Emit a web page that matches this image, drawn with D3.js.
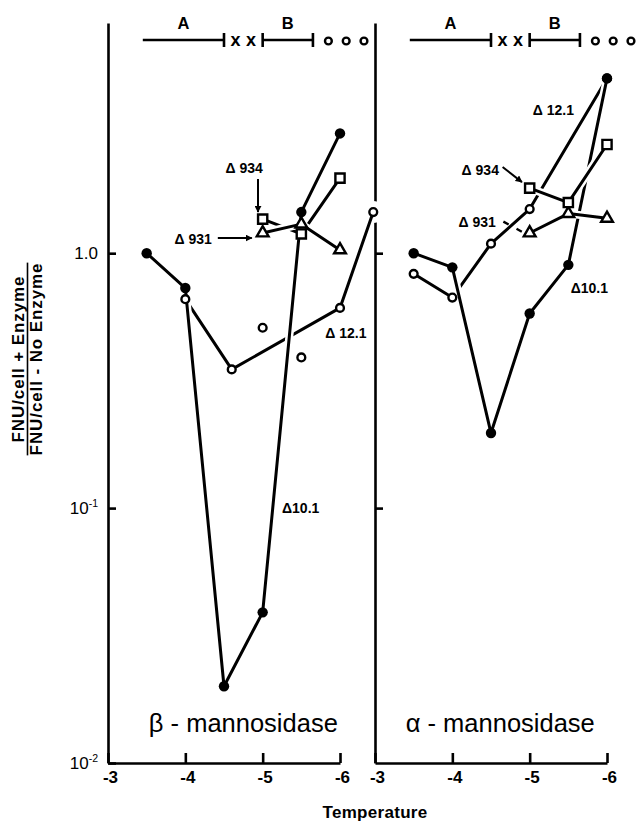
<!DOCTYPE html>
<html>
<head>
<meta charset="utf-8">
<script src="https://cdn.jsdelivr.net/npm/d3@7"></script>
<style>
  body { margin: 0; background: #fff; }
  svg { display: block; }
</style>
</head>
<body>
<svg id="chart" width="642" height="822"></svg>
<script>
// axis ticks
var xTicks = [-3, -4, -5, -6];
var yTicks = [1, 0.1, 0.01];
var yTickLabels = [['1.0', ''], ['10', '-1'], ['10', '-2']];

// beta-mannosidase panel
var betaD101X = [-3.5, -4, -4.5, -5, -5.5, -6];
var betaD101Y = [1.0, 0.73, 0.02, 0.039, 1.45, 2.95];
var betaD121X = [-4, -4.6, -6, -6.43];
var betaD121Y = [0.66, 0.35, 0.61, 1.45];
var betaLooseX = [-5, -5.5];
var betaLooseY = [0.51, 0.39];
var betaD934X = [-5, -5.5, -6];
var betaD934Y = [1.36, 1.19, 1.97];
var betaD931X = [-5, -5.5, -6];
var betaD931Y = [1.2, 1.3, 1.03];

// alpha-mannosidase panel
var alphaD101X = [-3.5, -4, -4.5, -5, -5.5, -6];
var alphaD101Y = [1.0, 0.88, 0.197, 0.58, 0.9, 4.85];
var alphaD121X = [-3.5, -4, -4.5, -5, -6];
var alphaD121Y = [0.83, 0.67, 1.09, 1.49, 4.85];
var alphaD934X = [-5, -5.5, -6];
var alphaD934Y = [1.8, 1.58, 2.67];
var alphaD931X = [-5, -5.5, -6];
var alphaD931Y = [1.2, 1.43, 1.37];

// phase bar above each panel (A, x x, B, o o o)
var phaseA = [-3.45, -4.5];
var phaseB = [-5, -5.65];
var crossMarks = [-4.65, -4.85];
var ringMarks = [-5.85, -6.08, -6.31];

// strain labels: text, x, y (data units)
var betaNotes = [['\u0394 934', -4.52, 2.06], ['\u0394 931', -3.86, 1.087], ['\u0394 12.1', -5.81, 0.465], ['\u039410.1', -5.25, 0.0957]];
var betaArrows = [[-4.94, 1.955, -4.94, 1.45], [-4.42, 1.147, -4.86, 1.147]];
var alphaNotes = [['\u0394 12.1', -5.04, 3.49], ['\u0394 934', -4.12, 2.03], ['\u0394 931', -4.08, 1.27], ['\u039410.1', -5.53, 0.698]];
var alphaArrows = [[-4.65, 2.18, -4.90, 1.90]];
var alphaDashes = [[-4.66, 1.33, -4.93, 1.20]];

var font = '"Liberation Sans", Arial, Helvetica, sans-serif';
var svg = d3.select('#chart');

svg.append('defs').append('marker')
  .attr('id', 'head').attr('viewBox', '0 0 10 10')
  .attr('refX', 9).attr('refY', 5)
  .attr('markerWidth', 3.5).attr('markerHeight', 3.5)
  .attr('orient', 'auto')
  .append('path').attr('d', 'M0,0L10,5L0,10z').attr('fill', '#000');

var y = d3.scaleLog().domain([0.01, 8]).range([763, 23]);

function pts(xs, ys) {
  return xs.map(function (d, i) { return [d, ys[i]]; });
}

function styleAxis(a) {
  a.attr('font-family', font);
  a.select('.domain').attr('stroke', '#000').attr('stroke-width', 2.6);
  a.selectAll('.tick line').attr('stroke', '#000').attr('stroke-width', 2.6);
}

var xBeta = d3.scaleLinear().domain([-3, -6]).range([108, 340]);
var xAlpha = d3.scaleLinear().domain([-3, -6]).range([375, 607]);

var panels = [
  {
    x: xBeta, yticks: yTicks, labels: true,
    series: [
      { pts: pts(betaD121X, betaD121Y), mark: 'open' },
      { pts: pts(betaD101X, betaD101Y), mark: 'filled' },
      { pts: pts(betaD934X, betaD934Y), mark: 'square' },
      { pts: pts(betaD931X, betaD931Y), mark: 'triangle' }
    ],
    loose: [{ pts: pts(betaLooseX, betaLooseY), mark: 'open' }],
    notes: betaNotes, arrows: betaArrows,
    title: '\u03b2 - mannosidase', titleAt: -4.75
  },
  {
    x: xAlpha, yticks: [1, 0.1], labels: false,
    series: [
      { pts: pts(alphaD121X, alphaD121Y), mark: 'open' },
      { pts: pts(alphaD101X, alphaD101Y), mark: 'filled' },
      { pts: pts(alphaD931X, alphaD931Y), mark: 'triangle' },
      { pts: pts(alphaD934X, alphaD934Y), mark: 'square' }
    ],
    loose: [],
    notes: alphaNotes, arrows: alphaArrows, dashes: alphaDashes,
    title: '\u03b1 - mannosidase', titleAt: -4.62
  }
];

// frames first, so the data can break through the axis lines
panels.forEach(function (p) {
  var x = p.x;
  var g = svg.append('g');

  g.append('g').attr('transform', 'translate(0,763)')
    .call(d3.axisBottom(x).tickValues(xTicks).tickSize(-10).tickSizeOuter(0)
      .tickPadding(8).tickFormat(function (d) { return String(d); }))
    .call(styleAxis)
    .selectAll('.tick text').attr('font-size', 17).attr('font-weight', 'bold').attr('dx', 2);

  var ya = g.append('g').attr('transform', 'translate(' + x(-3) + ',0)')
    .call(d3.axisLeft(y).tickValues(p.yticks).tickSize(-8).tickSizeOuter(0).tickPadding(10))
    .call(styleAxis);
  if (p.labels) {
    ya.selectAll('.tick text').text(null).attr('font-size', 17)
      .each(function (d, i) {
        var t = d3.select(this);
        t.append('tspan').text(yTickLabels[i][0]);
        if (yTickLabels[i][1]) t.append('tspan').attr('font-size', 10.5).attr('dy', '-0.7em').text(yTickLabels[i][1]);
      });
  } else {
    ya.selectAll('.tick text').remove();
  }

  // phase bar
  var top = g.append('g').attr('stroke', '#000').attr('stroke-width', 2.6);
  top.append('line').attr('x1', x(phaseA[0])).attr('x2', x(phaseA[1])).attr('y1', 40).attr('y2', 40);
  top.append('line').attr('x1', x(phaseA[1])).attr('x2', x(phaseA[1])).attr('y1', 33).attr('y2', 47);
  top.append('line').attr('x1', x(phaseB[0])).attr('x2', x(phaseB[1])).attr('y1', 40).attr('y2', 40);
  phaseB.forEach(function (v) {
    top.append('line').attr('x1', x(v)).attr('x2', x(v)).attr('y1', 33).attr('y2', 47);
  });
  ringMarks.forEach(function (v) {
    top.append('circle').attr('cx', x(v)).attr('cy', 41).attr('r', 3.4).attr('fill', 'none').attr('stroke-width', 2.4);
  });
  g.selectAll('text.cross').data(crossMarks).join('text').attr('class', 'cross')
    .attr('x', function (d) { return x(d); }).attr('y', 46)
    .attr('text-anchor', 'middle').attr('font-family', font).attr('font-weight', 'bold').attr('font-size', 18)
    .text('x');
  [['A', phaseA], ['B', phaseB]].forEach(function (l) {
    g.append('text').attr('x', x((l[1][0] + l[1][1]) / 2)).attr('y', 29)
      .attr('text-anchor', 'middle').attr('font-family', font).attr('font-weight', 'bold').attr('font-size', 16.5)
      .text(l[0]);
  });

  g.append('text').attr('x', x(p.titleAt)).attr('y', 732).attr('text-anchor', 'middle')
    .attr('font-family', font).attr('font-size', 25.5).text(p.title);
});

// white discs behind the markers only cut the frame
panels.forEach(function (p) {
  var x = p.x;
  p.series.concat(p.loose).forEach(function (s) {
    svg.append('g').selectAll('circle').data(s.pts).join('circle')
      .attr('cx', function (d) { return x(d[0]); }).attr('cy', function (d) { return y(d[1]); })
      .attr('r', 11).attr('fill', '#fff');
  });
});

panels.forEach(function (p) {
  var x = p.x;
  var g = svg.append('g');

  // lines, each over a white halo so crossings break like the print
  var line = d3.line().x(function (d) { return x(d[0]); }).y(function (d) { return y(d[1]); });
  p.series.forEach(function (s) {
    g.append('path').attr('d', line(s.pts)).attr('fill', 'none').attr('stroke', '#fff').attr('stroke-width', 8);
    g.append('path').attr('d', line(s.pts)).attr('fill', 'none').attr('stroke', '#000')
      .attr('stroke-width', 3).attr('stroke-linejoin', 'round');
  });

  p.series.concat(p.loose).forEach(function (s) {
    var shape = s.mark === 'square' || s.mark === 'triangle';
    var m = g.append('g').selectAll('.m').data(s.pts).join(shape ? 'path' : 'circle')
      .attr('transform', function (d) { return 'translate(' + x(d[0]) + ',' + y(d[1]) + ')'; });
    if (s.mark === 'filled') m.attr('r', 5.2).attr('fill', '#000');
    if (s.mark === 'open') m.attr('r', 3.9).attr('fill', '#fff').attr('stroke', '#000').attr('stroke-width', 2.4);
    if (s.mark === 'square') m.attr('d', d3.symbol(d3.symbolSquare, 85)).attr('fill', '#fff').attr('stroke', '#000').attr('stroke-width', 2.4);
    if (s.mark === 'triangle') m.attr('d', d3.symbol(d3.symbolTriangle, 60)).attr('fill', '#fff').attr('stroke', '#000').attr('stroke-width', 2.4);
  });

  p.notes.forEach(function (n) {
    g.append('text').attr('x', x(n[1])).attr('y', y(n[2]))
      .attr('font-family', font).attr('font-weight', 'bold').attr('font-size', 14).text(n[0]);
  });
  (p.arrows || []).forEach(function (a) {
    g.append('line').attr('x1', x(a[0])).attr('y1', y(a[1])).attr('x2', x(a[2])).attr('y2', y(a[3]))
      .attr('stroke', '#000').attr('stroke-width', 2).attr('marker-end', 'url(#head)');
  });
  (p.dashes || []).forEach(function (a) {
    g.append('line').attr('x1', x(a[0])).attr('y1', y(a[1])).attr('x2', x(a[2])).attr('y2', y(a[3]))
      .attr('stroke', '#000').attr('stroke-width', 2.4).attr('stroke-dasharray', '6,9');
  });
});

// y axis title as a fraction
var yl = svg.append('g').attr('font-family', font).attr('font-weight', 'bold')
  .attr('font-size', 17).attr('letter-spacing', 0.9).attr('text-anchor', 'middle');
yl.append('text').attr('transform', 'translate(24,359) rotate(-90)').text('FNU/cell + Enzyme');
var den = yl.append('text').attr('transform', 'translate(42,359) rotate(-90)').text('FNU/cell - No Enzyme');
var len = den.node().getComputedTextLength();
yl.append('line').attr('x1', 27.5).attr('x2', 27.5).attr('y1', 359 - len / 2).attr('y2', 359 + len / 2)
  .attr('stroke', '#000').attr('stroke-width', 1.6);

svg.append('text').attr('x', 375).attr('y', 818).attr('text-anchor', 'middle')
  .attr('font-family', font).attr('font-weight', 'bold').attr('font-size', 17)
  .attr('letter-spacing', 0.3).text('Temperature');
</script>
</body>
</html>
